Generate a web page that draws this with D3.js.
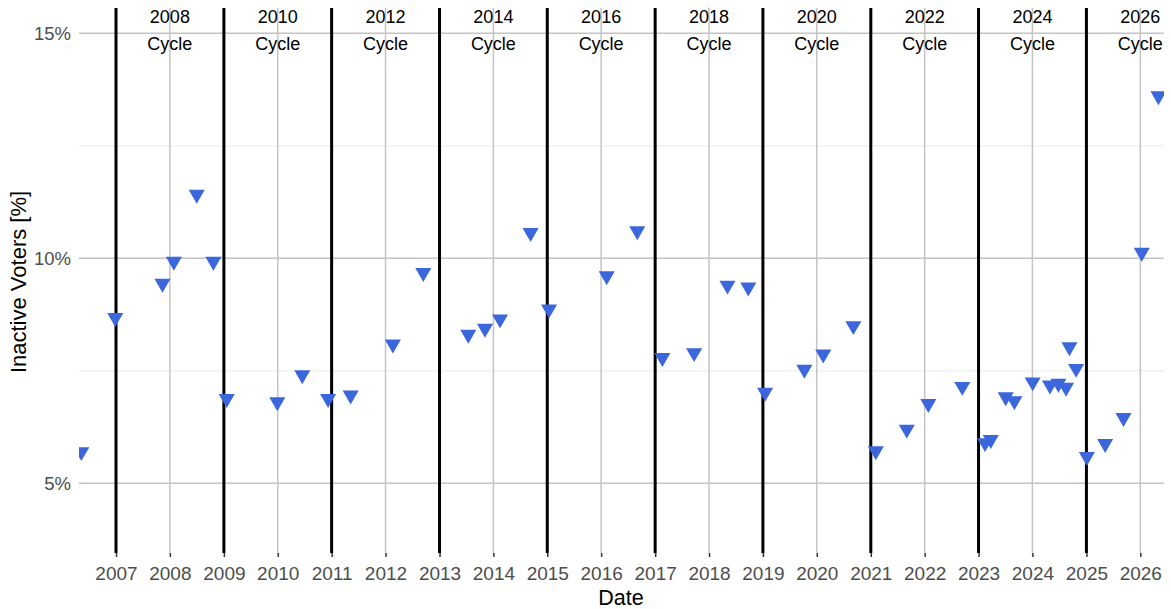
<!DOCTYPE html>
<html>
<head>
<meta charset="utf-8">
<script src="https://cdn.jsdelivr.net/npm/d3@7"></script>
<style>
  body { margin: 0; background: #fff; }
  text { font-family: "Liberation Sans", Arial, sans-serif; }
</style>
</head>
<body>
<div id="chart"></div>
<script>
const width = 1171;
const height = 609;

// observation dates and inactive voter share (%)
const dates = [
    "2006-05-11", "2006-12-27", "2007-11-12", "2008-01-28", "2008-07-01", "2008-10-22",
    "2009-01-20", "2009-12-29", "2010-06-16", "2010-12-08", "2011-05-10", "2012-02-20",
    "2012-09-13", "2013-07-15", "2013-11-05", "2014-02-15", "2014-09-10", "2015-01-13",
    "2016-02-08", "2016-09-02", "2017-02-19", "2017-09-22", "2018-05-06", "2018-09-24",
    "2019-01-16", "2019-10-09", "2020-02-14", "2020-09-05", "2021-02-04", "2021-09-02",
    "2022-01-26", "2022-09-13", "2023-02-14", "2023-03-25", "2023-07-04", "2023-09-01",
    "2024-01-03", "2024-04-29", "2024-06-25", "2024-08-16", "2024-09-08", "2024-10-23",
    "2025-01-04", "2025-05-08", "2025-09-09", "2026-01-11", "2026-05-04"
];
const inactive = [
    5.70, 8.68, 9.44, 9.93, 11.42, 9.93,
    6.88, 6.81, 7.41, 6.88, 6.96, 8.09,
    9.68, 8.31, 8.44, 8.65, 10.57, 8.87,
    9.61, 10.61, 7.79, 7.90, 9.40, 9.36,
    7.02, 7.53, 7.87, 8.50, 5.72, 6.20,
    6.77, 7.15, 5.90, 5.97, 6.92, 6.83,
    7.25, 7.18, 7.22, 7.13, 8.03, 7.55,
    5.59, 5.88, 6.46, 10.13, 13.61
];

// election cycles: boundaries on Jan 1 of odd years, label at the election year
const cycleStarts = [2007, 2009, 2011, 2013, 2015, 2017, 2019, 2021, 2023, 2025];
const cycleLabels = [2008, 2010, 2012, 2014, 2016, 2018, 2020, 2022, 2024, 2026];
const yearTicks = d3.range(2007, 2027);
const yMajor = [5, 10, 15];
const yMinor = [7.5, 12.5];

const panel = {left: 79, right: 1164, top: 8, bottom: 553};

const parse = d3.timeParse("%Y-%m-%d");
const data = dates.map((d, i) => ({date: parse(d), value: inactive[i]}));

const x = d3.scaleTime()
    .domain([new Date(2007, 0, 1), new Date(2026, 0, 1)])
    .range([116, 1140.3]);
const y = d3.scaleLinear()
    .domain([5, 15])
    .range([483.3, 33.3]);

const svg = d3.select('#chart')
    .append('svg')
    .attr('width', width)
    .attr('height', height);

svg.append('defs').append('clipPath')
    .attr('id', 'panel-clip')
    .append('rect')
    .attr('x', panel.left)
    .attr('y', panel.top)
    .attr('width', panel.right - panel.left)
    .attr('height', panel.bottom - panel.top);

const grid = svg.append('g');

grid.selectAll('.minor')
    .data(yMinor)
    .enter().append('line')
    .attr('x1', panel.left).attr('x2', panel.right)
    .attr('y1', d => y(d)).attr('y2', d => y(d))
    .attr('stroke', '#ededed')
    .attr('stroke-width', 1.2);

grid.selectAll('.major-y')
    .data(yMajor)
    .enter().append('line')
    .attr('x1', panel.left).attr('x2', panel.right)
    .attr('y1', d => y(d)).attr('y2', d => y(d))
    .attr('stroke', '#c4c4c4')
    .attr('stroke-width', 1.5);

grid.selectAll('.major-x')
    .data(yearTicks)
    .enter().append('line')
    .attr('x1', d => x(new Date(d, 0, 1))).attr('x2', d => x(new Date(d, 0, 1)))
    .attr('y1', panel.top).attr('y2', panel.bottom)
    .attr('stroke', '#c4c4c4')
    .attr('stroke-width', 1.5);

// cycle boundaries
svg.selectAll('.cycle')
    .data(cycleStarts)
    .enter().append('line')
    .attr('x1', d => x(new Date(d, 0, 1))).attr('x2', d => x(new Date(d, 0, 1)))
    .attr('y1', panel.top).attr('y2', panel.bottom)
    .attr('stroke', 'black')
    .attr('stroke-width', 3);

cycleLabels.forEach(yr => {
    const cx = x(new Date(yr, 0, 1));
    svg.append('text')
        .attr('x', cx)
        .attr('y', 23)
        .attr('text-anchor', 'middle')
        .attr('font-size', 18)
        .attr('fill', 'black')
        .text(yr);
    svg.append('text')
        .attr('x', cx)
        .attr('y', 50)
        .attr('text-anchor', 'middle')
        .attr('font-size', 18)
        .attr('fill', 'black')
        .text('Cycle');
});

// points
const tri = d3.symbol().type(d3.symbolTriangle).size(112)();
svg.append('g')
    .attr('clip-path', 'url(#panel-clip)')
    .selectAll('path')
    .data(data)
    .enter().append('path')
    .attr('d', tri)
    .attr('transform', d => `translate(${x(d.date)},${y(d.value)}) rotate(180)`)
    .attr('fill', '#3b66dc');

// x axis
const xAxis = svg.append('g')
    .attr('transform', `translate(0,${panel.bottom})`)
    .call(d3.axisBottom(x)
        .tickValues(yearTicks.map(d => new Date(d, 0, 1)))
        .tickFormat(d3.timeFormat('%Y'))
        .tickSize(4)
        .tickPadding(10));
xAxis.select('.domain').remove();
xAxis.selectAll('.tick line').attr('stroke', '#333').attr('stroke-width', 1.5);
xAxis.selectAll('.tick text')
    .attr('font-size', 19)
    .attr('fill', '#4d4d4d')
    .style('font-family', '"Liberation Sans", Arial, sans-serif');

// y axis labels
svg.selectAll('.ylab')
    .data(yMajor)
    .enter().append('text')
    .attr('x', 71)
    .attr('y', d => y(d))
    .attr('dy', '0.35em')
    .attr('text-anchor', 'end')
    .attr('font-size', 18.5)
    .attr('fill', '#4d4d4d')
    .text(d => d + '%');

svg.append('text')
    .attr('x', 621)
    .attr('y', 605)
    .attr('text-anchor', 'middle')
    .attr('font-size', 21.5)
    .attr('fill', 'black')
    .text('Date');

svg.append('text')
    .attr('transform', 'translate(26,282) rotate(-90)')
    .attr('text-anchor', 'middle')
    .attr('font-size', 22)
    .attr('fill', 'black')
    .text('Inactive Voters [%]');
</script>
</body>
</html>
